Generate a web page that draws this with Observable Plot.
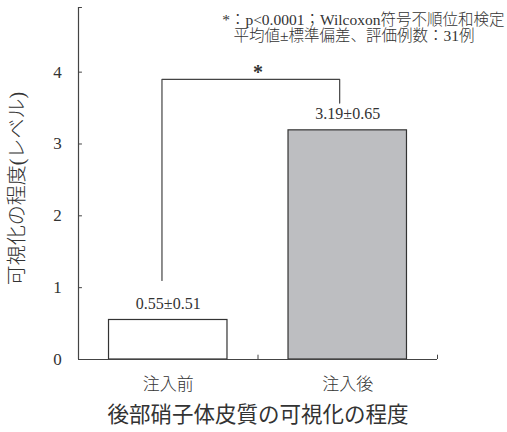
<!DOCTYPE html>
<html>
<head>
<meta charset="utf-8">
<script src="https://cdn.jsdelivr.net/npm/d3@7"></script>
<script src="https://cdn.jsdelivr.net/npm/@observablehq/plot@0.6"></script>
<style>
  html, body { margin: 0; padding: 0; background: #fff; }
</style>
</head>
<body>
<div id="chart"></div>
<script>
const categories = ["注入前", "注入後"];
const means = [0.55, 3.19];
const sds = [0.51, 0.65];
const barFills = ["#ffffff", "#bdbec1"];
const yTicks = [0, 1, 2, 3, 4];
const yMax = 4.9;
const yTitle = "可視化の程度(レベル)";
const xTitle = "後部硝子体皮質の可視化の程度";
const noteLine1 = "*：p<0.0001；Wilcoxon符号不順位和検定";
const noteLine2 = "平均値±標準偏差、評価例数：31例";
const sigMark = "*";
const bracketTop = 3.9;
const bracketGap = [0.55, 0.38];

const data = categories.map((c, i) => ({
  c, i, mean: means[i], sd: sds[i], fill: barFills[i],
  label: `${means[i].toFixed(2)}±${sds[i].toFixed(2)}`
}));

const bracket = [
  {x: 0.465, y: means[0] + bracketGap[0]},
  {x: 0.465, y: bracketTop},
  {x: 1.455, y: bracketTop},
  {x: 1.455, y: means[1] + bracketGap[1]}
];

const ink = "#333";
const font = "'Liberation Serif', 'Noto Sans CJK JP', serif";

const chart = Plot.plot({
  width: 507,
  height: 432,
  marginLeft: 78,
  marginRight: 70,
  marginTop: 7,
  marginBottom: 73,
  style: {fontFamily: font, color: ink, background: "#fff"},
  x: {type: "linear", domain: [0, 2], axis: null},
  y: {domain: [0, yMax], axis: null},
  marks: [
    Plot.rectY(data, {x1: d => d.i + 0.17, x2: d => d.i + 0.83, y1: 0, y2: "mean", fill: "fill", stroke: ink, strokeWidth: 1.2}),
    Plot.ruleX([0], {y1: 0, y2: yMax, stroke: "#444", strokeWidth: 1.2}),
    Plot.ruleY([0], {x1: 0, x2: 2, stroke: "#444", strokeWidth: 1.2}),
    Plot.ruleY(yTicks.concat([yMax]), {x1: 0, x2: 0.022, stroke: "#444"}),
    Plot.ruleX([1, 2], {y1: 0, y2: 0.06, stroke: "#444"}),
    Plot.text(yTicks, {x: 0, y: d => d, dx: -21, text: d => String(d), fontSize: 17, fill: ink}),
    Plot.text(data, {x: d => d.i + 0.5, y: 0, dy: 25, text: "c", fontSize: 17, fontWeight: 300, fill: ink}),
    Plot.text(data, {x: d => d.i + 0.5, y: "mean", dy: -16, text: "label", fontSize: 16, fill: ink, letterSpacing: 1.2}),
    Plot.line(bracket, {x: "x", y: "y", stroke: "#444", strokeWidth: 1.2}),
    Plot.text([sigMark], {x: 1.0, y: bracketTop, dy: -7, text: d => d, fontSize: 20, fontWeight: "bold", fill: ink}),
    Plot.text([yTitle], {frameAnchor: "left", textAnchor: "middle", lineAnchor: "middle", dx: -61, dy: 5, rotate: -90, fontSize: 20, fontWeight: 300, fill: ink}),
    Plot.text([xTitle], {frameAnchor: "bottom", textAnchor: "middle", lineAnchor: "middle", dy: 56, fontSize: 21.5, fill: ink}),
    Plot.text([noteLine1], {frameAnchor: "top-right", textAnchor: "end", lineAnchor: "middle", dx: 67, dy: 13, fontSize: 15.5, fontWeight: 300, fill: ink}),
    Plot.text([noteLine2], {frameAnchor: "top-left", textAnchor: "start", lineAnchor: "middle", dx: 155, dy: 29, fontSize: 15.5, fontWeight: 300, fill: ink})
  ]
});
document.getElementById("chart").appendChild(chart);
</script>
</body>
</html>
